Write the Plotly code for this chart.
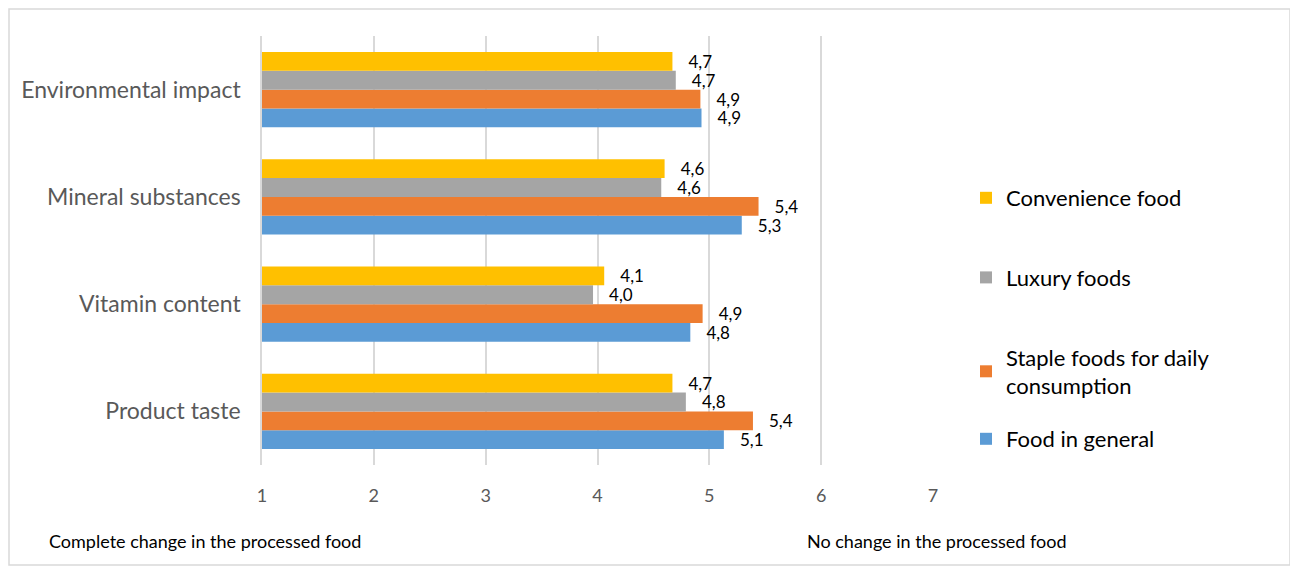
import plotly.graph_objects as go

categories = ["Product taste", "Vitamin content", "Mineral substances", "Environmental impact"]
series_names = ["Food in general", "Staple foods for daily<br>consumption", "Luxury foods", "Convenience food"]
food_general = [5.13, 4.83, 5.29, 4.93]
staple_foods = [5.39, 4.94, 5.44, 4.92]
luxury_foods = [4.79, 3.96, 4.57, 4.70]
convenience_food = [4.67, 4.06, 4.60, 4.67]
colors = ["#5B9BD5", "#ED7D31", "#A5A5A5", "#FFC000"]
legend_ranks = [4, 3, 2, 1]
legend_ids = ["legend2", "legend", "legend", "legend"]
x_ticks = [1, 2, 3, 4, 5, 6, 7]
left_note = "Complete change in the processed food"
right_note = "No change in the processed food"

FONT = "Lato, Open Sans, sans-serif"
values = [food_general, staple_foods, luxury_foods, convenience_food]

fig = go.Figure()
for i, (name, vals, col, rk, lg) in enumerate(zip(series_names, values, colors, legend_ranks, legend_ids)):
    fig.add_trace(go.Bar(
        y=categories, x=[v - 1 for v in vals], base=1, orientation="h",
        name=name, marker=dict(color=col, line=dict(width=0)),
        text=["\u00a0\u00a0\u00a0" + f"{v:.1f}".replace(".", ",") for v in vals],
        textposition="outside", cliponaxis=False, constraintext="none",
        textfont=dict(family=FONT, size=17, color="#000000"),
        legendgroup=f"g{i}", legendrank=rk, legend=lg, hoverinfo="skip",
    ))

OFF = 8  # page offset of the figure (browser body margin)
W, H = 1298 - OFF, 572 - OFF
L, R, T, B = 262 - OFF, 1298 - 933, 36 - OFF, 572 - 465
pw, ph = W - L - R, H - T - B

def px2x(px):
    return (px - OFF - L) / pw

def py2y(py):
    return (H + OFF - B - py) / ph

legend_style = dict(xanchor="left", yanchor="top",
                    font=dict(family=FONT, size=22, color="#000000"),
                    itemwidth=30, bgcolor="rgba(0,0,0,0)")

fig.update_layout(
    width=W, height=H,
    margin=dict(l=L, r=R, t=T, b=B),
    barmode="group", bargap=0.3, bargroupgap=0,
    plot_bgcolor="white", paper_bgcolor="white",
    font=dict(family=FONT),
    xaxis=dict(range=[1, 7], tickvals=x_ticks, showgrid=True, gridcolor="#D9D9D9",
               gridwidth=1.5, zeroline=False, showline=False,
               tickfont=dict(family=FONT, size=18, color="#595959"),
               ticklabelstandoff=18),
    yaxis=dict(categoryorder="array", categoryarray=categories,
               showline=True, linecolor="#D9D9D9", linewidth=1.5,
               tickfont=dict(family=FONT, size=23, color="#595959"),
               ticklabelstandoff=15, showgrid=False),
    legend=dict(x=px2x(966), y=py2y(177), traceorder="grouped", tracegroupgap=48,
                **legend_style),
    legend2=dict(x=px2x(966), y=py2y(418), **legend_style),
    showlegend=True,
)

fig.add_annotation(text=left_note, xref="paper", yref="paper", x=px2x(47), y=py2y(541),
                   xanchor="left", yanchor="middle", showarrow=False,
                   font=dict(family=FONT, size=18, color="#000000"))
fig.add_annotation(text=right_note, xref="paper", yref="paper", x=px2x(805), y=py2y(541),
                   xanchor="left", yanchor="middle", showarrow=False,
                   font=dict(family=FONT, size=18, color="#000000"))

fig.add_shape(type="rect", xref="paper", yref="paper",
              x0=px2x(9), x1=px2x(1290), y0=py2y(565), y1=py2y(9),
              line=dict(color="#D9D9D9", width=1.5), fillcolor="rgba(0,0,0,0)", layer="below")

fig.write_html("out.html")
